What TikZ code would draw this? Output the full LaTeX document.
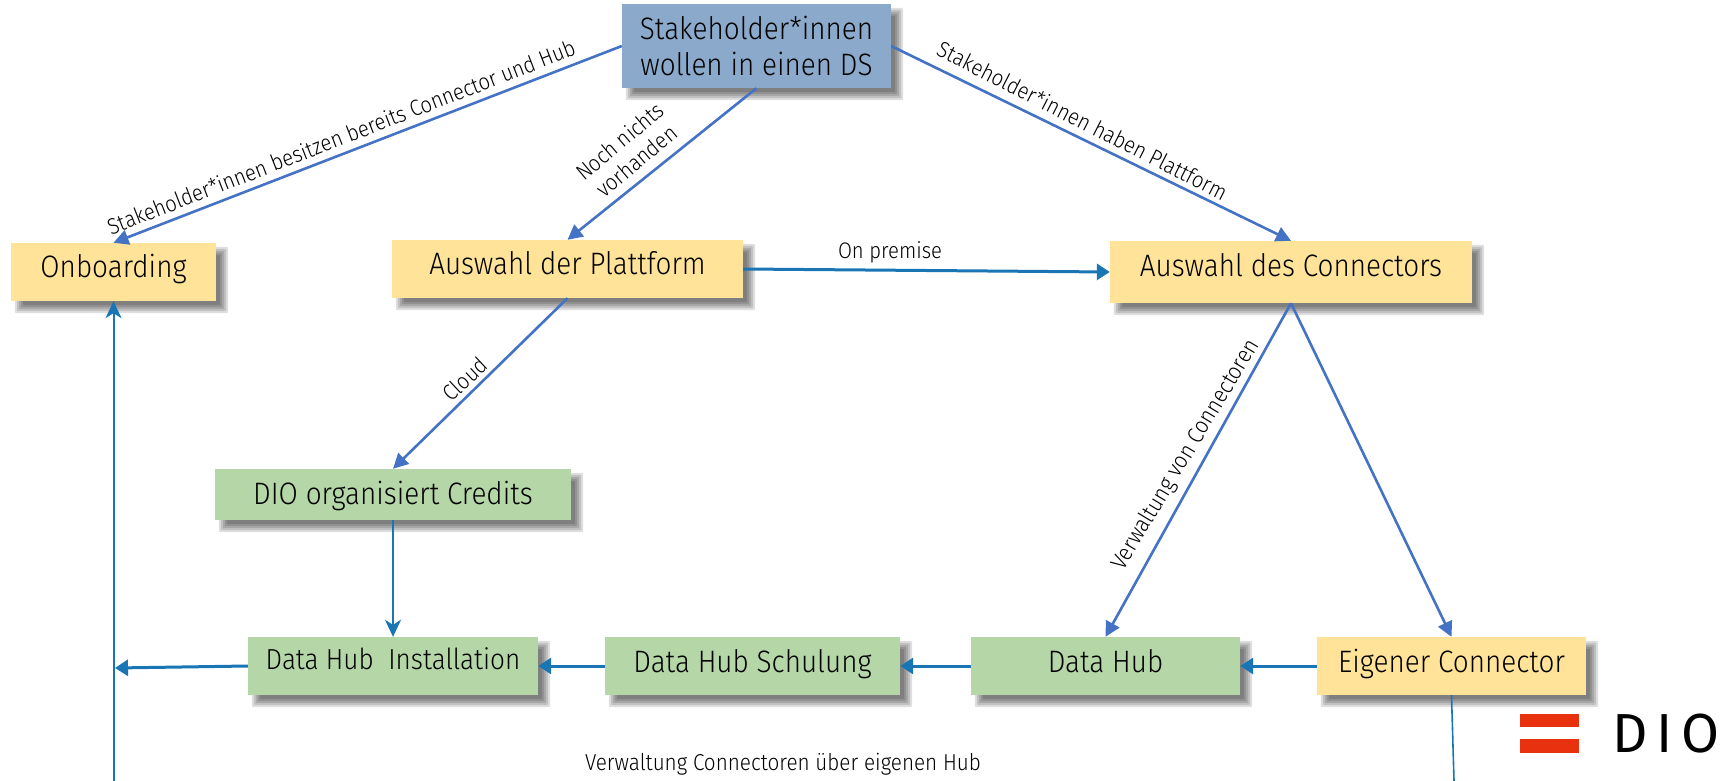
\documentclass[tikz,border=0pt]{standalone}
\usepackage{fontspec}
\setmainfont{Fira Sans Light}[FakeStretch=0.9]
\newfontfamily\logofont{Fira Sans}
\usetikzlibrary{arrows.meta,calc,backgrounds}
\definecolor{boxyellow}{HTML}{FFE399}
\definecolor{boxgreen}{HTML}{B5D6A7}
\definecolor{boxblue}{HTML}{8BAACB}
\definecolor{lineblue}{HTML}{4472C4}
\definecolor{linesea}{HTML}{1A75B5}
\definecolor{logored}{HTML}{E8320F}
\tikzset{
  box/.style={rectangle,inner sep=0pt,text=black,font=\fontsize{31}{36}\selectfont,align=center},
  bl/.style 2 args={text height=#1,text depth=#2},
  yellowbox/.style={box,fill=boxyellow},
  greenbox/.style={box,fill=boxgreen},
  bluebox/.style={box,fill=boxblue},
  lab/.style={inner sep=0pt,font=\fontsize{22.5}{26}\selectfont,align=center},
  flowa/.style={draw=lineblue,line width=2.6pt,-{Triangle[length=15pt,width=15pt]}},
  flowb/.style={draw=linesea,line width=3pt,-{Triangle[length=13pt,width=16pt]}},
  flowc/.style={draw=linesea,line width=2pt,-{Stealth[length=17pt,width=16pt,inset=5pt]}},
  plain/.style={draw=linesea,line width=1.6pt},
}
\begin{document}
\begin{tikzpicture}[x=1pt,y=-1pt]
\useasboundingbox (0,0) rectangle (1731,781);
\node[bluebox,minimum width=269pt,minimum height=84pt] (stake) at (756.5,46) {Stakeholder*innen\\wollen in einen DS};
\node[yellowbox,bl={20pt}{10pt},minimum width=205pt,minimum height=58pt] (onb) at (113.5,272) {Onboarding};
\node[yellowbox,bl={20pt}{10pt},minimum width=351pt,minimum height=58pt] (plat) at (567.5,269) {Auswahl der Plattform};
\node[yellowbox,bl={19pt}{11pt},minimum width=362pt,minimum height=62pt] (conn) at (1291,272) {Auswahl des Connectors};
\node[greenbox,bl={24.5pt}{5.5pt},minimum width=356pt,minimum height=51pt] (dio) at (393,494.5) {DIO organisiert Credits};
\node[greenbox,bl={18pt}{12pt},minimum width=290pt,minimum height=58pt,font=\fontsize{29}{36}\selectfont] (inst) at (393,666) {Data Hub\ \ Installation};
\node[greenbox,bl={21pt}{9pt},minimum width=295pt,minimum height=58pt] (schu) at (752.5,666) {Data Hub Schulung};
\node[greenbox,bl={21pt}{9pt},minimum width=269pt,minimum height=58pt] (hub) at (1105.5,666) {Data Hub};
\node[yellowbox,bl={21pt}{9pt},minimum width=269pt,minimum height=58pt] (eig) at (1451.5,666) {Eigener Connector};
\begin{scope}[on background layer]
\foreach \n in {stake,onb,plat,conn,dio,inst,schu,hub,eig}{
  \foreach \e in {-4,-2,0,2,4}{
    \fill[black,fill opacity=.13,rounded corners=2pt]
      ($(\n.south west)+(8-\e,8+\e)$) rectangle ($(\n.north east)+(8+\e,8-\e)$);
  }
}
\end{scope}
\coordinate (leftup) at (113.5,781);
\coordinate (leftjoin) at (115,668);
\coordinate (downend) at (1454,781);
\draw[flowa] (stake.west) -- (onb.north);
\draw[flowa] (stake.south) -- (plat.north);
\draw[flowa] (stake.east) -- (conn.north);
\draw[flowb] (plat.east) -- (conn.west);
\draw[flowa] (plat.south) -- (dio.north);
\draw[flowa] (conn.south) -- (hub.north);
\draw[flowa] (conn.south) -- (eig.north);
\draw[flowc] (dio.south) -- (inst.north);
\draw[flowb] (inst.west) -- (leftjoin);
\draw[flowb] (schu.west) -- (inst.east);
\draw[flowb] (hub.west) -- (schu.east);
\draw[flowb] (eig.west) -- (hub.east);
\draw[flowc] (leftup) -- (onb.south);
\draw[plain] (eig.south) -- (downend);
\node[lab,rotate=21.2] (l1) at (341,137) {Stakeholder*innen besitzen bereits Connector und Hub};
\node[lab,rotate=40] (l2) at (628,151) {Noch nichts\\vorhanden};
\node[lab,rotate=-27] (l3) at (1082.5,120.5) {Stakeholder*innen haben Plattform};
\node[lab] (l4) at (890,252) {On premise};
\node[lab,rotate=43] (l5) at (465,379) {Cloud};
\node[lab,rotate=59,font=\fontsize{23}{26}\selectfont] (l6) at (1186,455) {Verwaltung von Connectoren};
\node[lab,font=\fontsize{23}{26}\selectfont] (l7) at (783,764) {Verwaltung Connectoren über eigenen Hub};
\fill[logored] (1520,714) rectangle (1579,727);
\fill[logored] (1520,739) rectangle (1579,753);
\node[inner sep=0pt,anchor=west,font=\logofont\fontsize{55}{60}\selectfont] (logo) at (1612,733.5) {D\hspace{9pt}I\hspace{9pt}O};
\end{tikzpicture}
\end{document}
